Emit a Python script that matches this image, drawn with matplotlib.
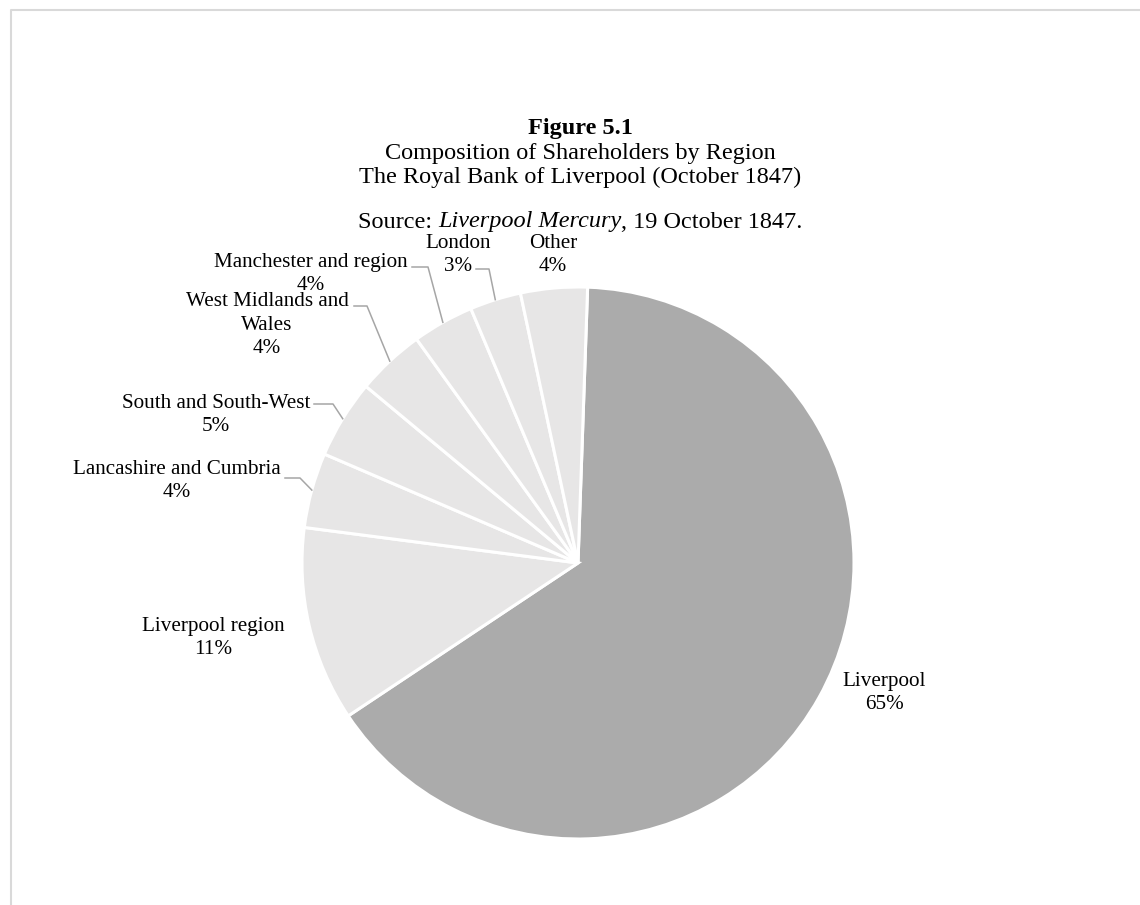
import matplotlib
matplotlib.use("Agg")
import numpy as np
import matplotlib.pyplot as plt

plt.rcParams['font.family'] = ['Liberation Serif', 'DejaVu Serif']

# data (shares of shareholders, %)
regions = ["Liverpool", "Liverpool region", "Lancashire and Cumbria",
           "South and South-West", "West Midlands and\nWales",
           "Manchester and region", "London", "Other"]
shares = [65.1, 11.4, 4.4, 4.6, 4.0, 3.6, 3.0, 3.9]
slice_colors = ["#ababab"] + ["#e7e6e6"] * 7

# label layout in image pixels (x, y from top)
label_xy = [(884, 693), (213, 638), (177, 481), (216, 415),
            (267, 325), (311, 274), (458, 255), (553, 255)]
# leader lines: (start, elbow) or None
leaders = [None, None,
           ((285, 478), (300, 478)),
           ((314, 404), (333, 404)),
           ((354, 306), (367, 306)),
           ((412, 267), (428, 267)),
           ((476, 269), (489, 269)),
           None]

W, H = 1140, 905
fig = plt.figure(figsize=(W / 100, H / 100), dpi=100)
ax = fig.add_axes([0, 0, 1, 1])

wedges, _ = ax.pie(shares, colors=slice_colors, startangle=88, counterclock=False,
                   center=(578, H - 563), radius=276,
                   wedgeprops=dict(edgecolor="white", linewidth=2.2))
ax.set_xlim(0, W)
ax.set_ylim(0, H)
ax.axis("off")

for i, w in enumerate(wedges):
    x, y = label_xy[i]
    ax.text(x, H - y, f"{regions[i]}\n{round(shares[i])}%", ha="center", va="center",
            multialignment="center", fontsize=15.2, linespacing=1.32)
    if leaders[i] is not None:
        mid = np.deg2rad((w.theta1 + w.theta2) / 2)
        ex = w.center[0] + w.r * np.cos(mid)
        ey = w.center[1] + w.r * np.sin(mid)
        (sx, sy), (kx, ky) = leaders[i]
        ax.plot([sx, kx, ex], [H - sy, H - ky, ey], color="#a6a6a6", lw=1.1)

# titles
ax.text(580, H - 129, "Figure 5.1", ha="center", va="center", fontsize=17.5, fontweight="bold")
ax.text(580, H - 153, "Composition of Shareholders by Region", ha="center", va="center", fontsize=17.5)
ax.text(580, H - 177, "The Royal Bank of Liverpool (October 1847)", ha="center", va="center", fontsize=17.5)

# source line with italic part
parts = [("Source: ", "normal"), ("Liverpool Mercury", "italic"), (", 19 October 1847.", "normal")]
renderer = fig.canvas.get_renderer()
texts = []
for s, st in parts:
    texts.append(ax.text(0, H - 222, s, ha="left", va="center", fontsize=17.5, fontstyle=st))
widths = [t.get_window_extent(renderer).width for t in texts]
x0 = 580 - sum(widths) / 2
for t, wd in zip(texts, widths):
    t.set_x(x0)
    x0 += wd

# chart area border
ax.plot([11, 11, W], [0, H - 10, H - 10], color="#d9d9d9", lw=1.5)

fig.savefig("out.png", dpi=100)
